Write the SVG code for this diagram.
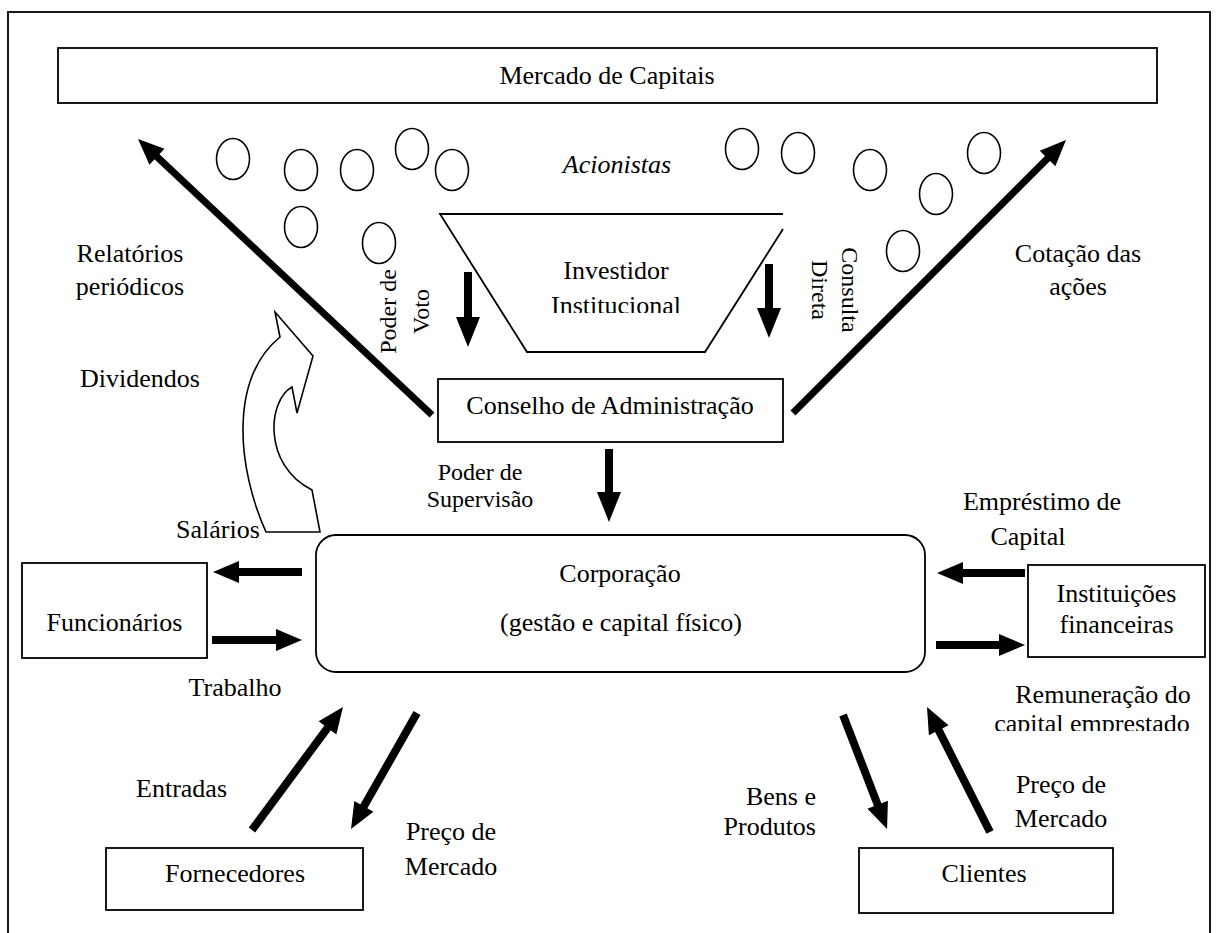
<svg xmlns="http://www.w3.org/2000/svg" width="1219" height="933" viewBox="0 0 1219 933">
<style>
text{font-family:"Liberation Serif","Times New Roman",serif;font-size:26px;fill:#000}
.m{text-anchor:middle}
.s{font-size:24px}
.box{fill:#fff;stroke:#000;stroke-width:1.8}
.ov{fill:none;stroke:#000;stroke-width:1.6}
.a{stroke:#000;stroke-width:8;fill:none;marker-end:url(#ah)}
.av{stroke:#000;stroke-width:8;fill:none;marker-end:url(#ahv)}
.ad{stroke:#000;stroke-width:7;fill:none;marker-end:url(#ah)}
</style>
<defs>
<marker id="ah" markerUnits="userSpaceOnUse" markerWidth="30" markerHeight="30" refX="0" refY="0" orient="auto" overflow="visible"><path d="M-2,-11 L24,0 L-2,11 Z" fill="#000"/></marker>
<marker id="ahv" markerUnits="userSpaceOnUse" markerWidth="30" markerHeight="30" refX="0" refY="0" orient="auto" overflow="visible"><path d="M-2,-12 L28,0 L-2,12 Z" fill="#000"/></marker>
<clipPath id="c1"><rect x="540" y="250" width="160" height="63"/></clipPath>
<clipPath id="c2"><rect x="960" y="680" width="259" height="51"/></clipPath>
</defs>
<rect x="8" y="12" width="1202" height="940" fill="#fff" stroke="#000" stroke-width="1.8"/>

<g id="mercado"><rect class="box" x="58" y="48" width="1099" height="55"/><text class="m" x="607" y="84">Mercado de Capitais</text></g>

<g id="acionistas">
<text class="m" x="617" y="173" font-style="italic">Acionistas</text>
<ellipse class="ov" cx="233" cy="159" rx="16.5" ry="20.5"/>
<ellipse class="ov" cx="301" cy="170" rx="16.5" ry="20.5"/>
<ellipse class="ov" cx="357" cy="170" rx="16.5" ry="20.5"/>
<ellipse class="ov" cx="412" cy="149" rx="16.5" ry="20.5"/>
<ellipse class="ov" cx="452" cy="170" rx="16.5" ry="20.5"/>
<ellipse class="ov" cx="301" cy="227" rx="16.5" ry="20.5"/>
<ellipse class="ov" cx="379" cy="243" rx="16.5" ry="20.5"/>
<ellipse class="ov" cx="742" cy="149" rx="16.5" ry="20.5"/>
<ellipse class="ov" cx="798" cy="153" rx="16.5" ry="20.5"/>
<ellipse class="ov" cx="870" cy="170" rx="16.5" ry="20.5"/>
<ellipse class="ov" cx="984" cy="153" rx="16.5" ry="20.5"/>
<ellipse class="ov" cx="936" cy="194" rx="16.5" ry="20.5"/>
<ellipse class="ov" cx="903" cy="251" rx="16.5" ry="20.5"/>
</g>

<g id="investidor">
<path d="M783,229 L705,352 L527,352 L440,214 L783,214" fill="#fff" stroke="#000" stroke-width="1.8"/>
<text class="m" x="616" y="279">Investidor</text>
<text class="m" x="616" y="314" clip-path="url(#c1)">Institucional</text>
</g>

<g id="conselho"><rect class="box" x="438" y="379" width="345" height="63"/><text class="m" x="610" y="414">Conselho de Administração</text></g>

<g id="corporacao"><rect class="box" x="316" y="535" width="609" height="137" rx="20"/><text class="m" x="620" y="582">Corporação</text><text class="m" x="621" y="631">(gestão e capital físico)</text></g>

<g id="funcionarios"><rect class="box" x="22" y="563" width="185" height="95"/><text class="m" x="114.5" y="631">Funcionários</text></g>

<g id="instituicoes"><rect class="box" x="1028" y="565" width="177" height="92"/><text class="m" x="1116.5" y="602">Instituições</text><text class="m" x="1116.5" y="633">financeiras</text></g>

<g id="fornecedores"><rect class="box" x="106" y="848" width="257" height="62"/><text class="m" x="235" y="882">Fornecedores</text></g>

<g id="clientes"><rect class="box" x="859" y="848" width="254" height="65"/><text class="m" x="984" y="882">Clientes</text></g>

<g id="dividendos-seta">
<path d="M266,532 C238,470 228,380 280,337 L275,312 L313,356 L297,413 L292,387 C268,400 262,465 312,490 L320,532 Z" fill="#fff" stroke="#000" stroke-width="1.6"/>
</g>

<g id="connectors">
<line class="ad" x1="432" y1="415" x2="155.5" y2="155.4"/>
<line class="ad" x1="793" y1="413" x2="1049" y2="157"/>
<line class="av" x1="468" y1="272" x2="468" y2="319"/>
<line class="av" x1="769" y1="264" x2="769" y2="310"/>
<line class="av" x1="609" y1="449" x2="609" y2="494"/>
<line class="a" x1="302" y1="572" x2="237" y2="572"/>
<line class="a" x1="212" y1="640" x2="278" y2="640"/>
<line class="a" x1="1025" y1="573" x2="961" y2="573"/>
<line class="a" x1="936" y1="645" x2="1001" y2="645"/>
<line class="a" x1="252" y1="830" x2="328.7" y2="726.3"/>
<line class="a" x1="417" y1="713" x2="362.9" y2="808.1"/>
<line class="a" x1="843" y1="715" x2="878.4" y2="806.6"/>
<line class="a" x1="990" y1="832" x2="937.8" y2="728.4"/>
</g>

<g id="labels">
<text class="m" x="130" y="262">Relatórios</text>
<text class="m" x="130" y="295">periódicos</text>
<text class="m" x="140" y="387">Dividendos</text>
<text class="m" x="1078" y="262">Cotação das</text>
<text class="m" x="1078" y="295">ações</text>
<text class="m s" transform="translate(396,311.5) rotate(-90)">Poder de</text>
<text class="m s" transform="translate(429,311.5) rotate(-90)">Voto</text>
<text class="m s" transform="translate(842,290) rotate(90)">Consulta</text>
<text class="m s" transform="translate(812,290) rotate(90)">Direta</text>
<text class="m s" x="480" y="480">Poder de</text>
<text class="m s" x="480" y="507">Supervisão</text>
<text class="m" x="218" y="538">Salários</text>
<text class="m" x="235" y="696">Trabalho</text>
<text class="m" x="1042" y="510">Empréstimo de</text>
<text class="m" x="1028" y="545">Capital</text>
<text class="m" x="1103" y="703">Remuneração do</text>
<text class="m" x="1092" y="732" clip-path="url(#c2)">capital emprestado</text>
<text x="227" y="797" text-anchor="end">Entradas</text>
<text class="m" x="451" y="840">Preço de</text>
<text class="m" x="451" y="875">Mercado</text>
<text x="816" y="805" text-anchor="end">Bens e</text>
<text x="816" y="835" text-anchor="end">Produtos</text>
<text class="m" x="1061" y="793">Preço de</text>
<text class="m" x="1061" y="827">Mercado</text>
</g>
</svg>
